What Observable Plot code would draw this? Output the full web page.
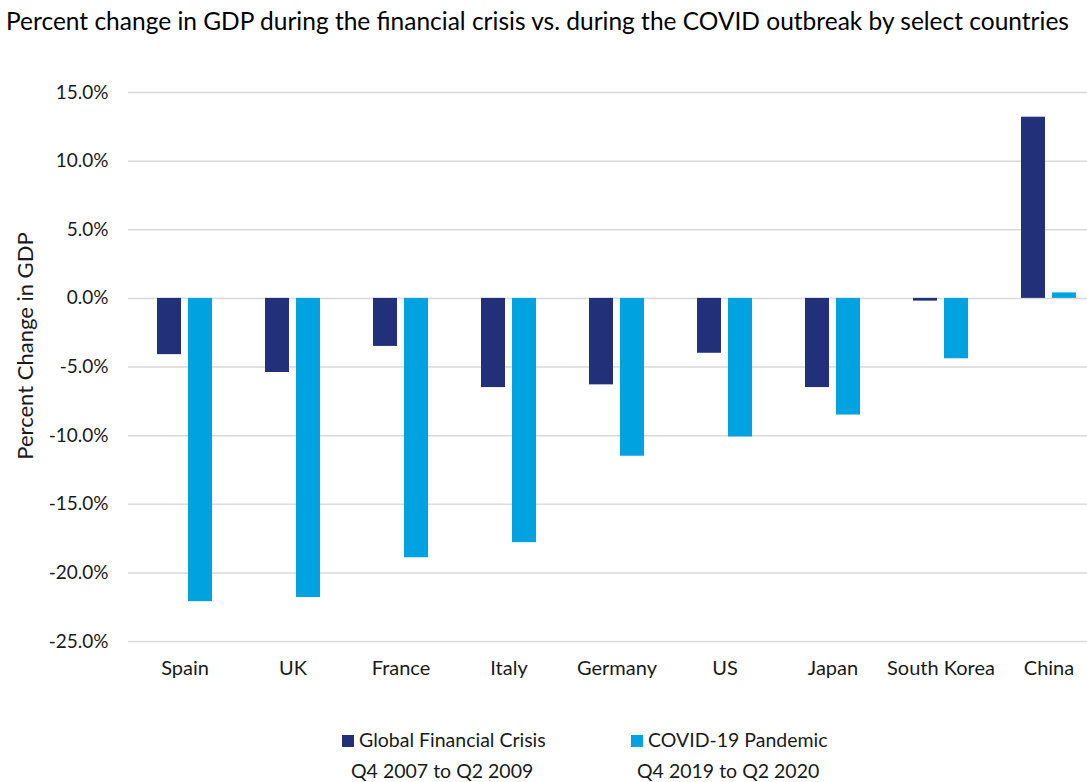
<!DOCTYPE html>
<html>
<head>
<meta charset="utf-8">
<script src="https://cdn.jsdelivr.net/npm/d3@7"></script>
<script src="https://cdn.jsdelivr.net/npm/@observablehq/plot@0.6"></script>
<style>
  html, body { margin: 0; padding: 0; background: #fff; }
  #wrap { position: relative; width: 1087px; height: 782px; overflow: hidden; font-family: Lato, "Open Sans", sans-serif; color: #1a1a1a; }
  #title { position: absolute; left: 0; top: 6px; width: 1075px; text-align: center; font-size: 24.5px; line-height: 30px; white-space: nowrap; color: #000; }
  #chart { position: absolute; left: 0; top: 45px; }
  #ylabel { position: absolute; left: 24px; top: 346px; transform: translate(-50%, -50%) rotate(-90deg); font-size: 22px; white-space: nowrap; }
  .leg { position: absolute; font-size: 19.5px; line-height: 24px; white-space: nowrap; }
  .sw { display: inline-block; width: 12px; height: 12px; margin-right: 5px; vertical-align: 0px; }
</style>
</head>
<body>
<div id="wrap">
  <div id="title">Percent change in GDP during the financial crisis vs. during the COVID outbreak by select countries</div>
  <div id="chart"></div>
  <div id="ylabel">Percent Change in GDP</div>
</div>
<script>
const countries = ["Spain", "UK", "France", "Italy", "Germany", "US", "Japan", "South Korea", "China"];
const gfcValues = [-4.1, -5.4, -3.5, -6.5, -6.3, -4.0, -6.5, -0.2, 13.2];
const covidValues = [-22.1, -21.8, -18.9, -17.8, -11.5, -10.1, -8.5, -4.4, 0.4];
const seriesNames = ["Global Financial Crisis", "COVID-19 Pandemic"];
const seriesPeriods = ["Q4 2007 to Q2 2009", "Q4 2019 to Q2 2020"];
const seriesColors = ["#223079", "#00a3e0"];
const yTicks = [-25, -20, -15, -10, -5, 0, 5, 10, 15];

const gfcRows = countries.map((c, i) => ({country: c, value: gfcValues[i]}));
const covidRows = countries.map((c, i) => ({country: c, value: covidValues[i]}));
const fmt = d => d.toFixed(1) + "%";

const chart = Plot.plot({
  width: 1087,
  height: 640,
  marginTop: 47,
  marginBottom: 44,
  marginLeft: 128,
  marginRight: 0,
  style: {fontFamily: "Lato, 'Open Sans', sans-serif", fontSize: "19px", color: "#1a1a1a", background: "transparent"},
  x: {domain: countries, range: [128.7, 1103.4], paddingInner: 0.492, paddingOuter: 0.246, label: null},
  y: {domain: [-25, 15], label: null},
  marks: [
    Plot.ruleY(yTicks, {stroke: "#d9d9d9", strokeWidth: 1.5}),
    Plot.barY(gfcRows, {x: "country", y: "value", fill: seriesColors[0], insetRight: 31}),
    Plot.barY(covidRows, {x: "country", y: "value", fill: seriesColors[1], insetLeft: 31}),
    Plot.axisY({ticks: yTicks, tickSize: 0, tickPadding: 20, tickFormat: fmt, label: null, fontSize: 19}),
    Plot.axisX({tickSize: 0, tickPadding: 19, label: null, fontSize: 20})
  ]
});
document.getElementById("chart").appendChild(chart);

const wrap = document.getElementById("wrap");
const legendPos = [342, 631];
const periodPos = [351, 637];
seriesNames.forEach((name, i) => {
  const a = document.createElement("div");
  a.className = "leg";
  a.style.left = legendPos[i] + "px";
  a.style.top = "728px";
  a.innerHTML = `<span class="sw" style="background:${seriesColors[i]}"></span>${name}`;
  wrap.appendChild(a);
  const b = document.createElement("div");
  b.className = "leg";
  b.style.left = periodPos[i] + "px";
  b.style.top = "759px";
  b.textContent = seriesPeriods[i];
  wrap.appendChild(b);
});
</script>
</body>
</html>
